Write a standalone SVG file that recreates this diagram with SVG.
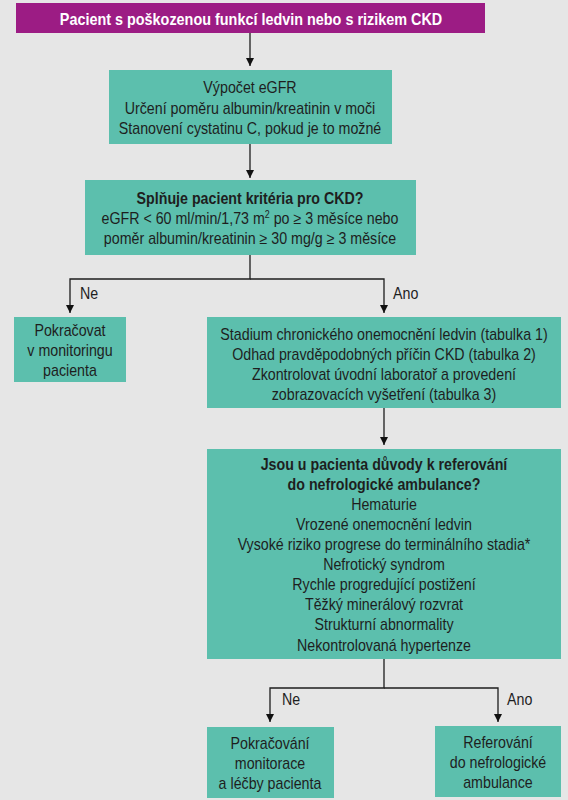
<svg xmlns="http://www.w3.org/2000/svg" width="568" height="800" viewBox="0 0 568 800">
<defs>
<style>
.bg{fill:#e6e6e6}
.box{fill:#5cbfad}
.title{fill:#9c1c84}
text{font-family:"Liberation Sans",Arial,sans-serif;font-size:16px;fill:#1e1e1e;text-anchor:middle}
.b{font-weight:bold}
.w{fill:#ffffff;font-weight:bold}
.lbl{text-anchor:start}
.conn{fill:none;stroke:#1e1e1e;stroke-width:1.3}
</style>
<marker id="ah" viewBox="0 0 10 10" refX="10" refY="5" markerWidth="8" markerHeight="8" markerUnits="userSpaceOnUse" orient="auto">
<path d="M0,0 L10,5 L0,10 z" fill="#111"/>
</marker>
</defs>
<rect class="bg" x="0" y="0" width="568" height="800"/>
<g id="connectors">
<path class="conn" d="M250,33 V66" marker-end="url(#ah)"/>
<path class="conn" d="M250,144 V178" marker-end="url(#ah)"/>
<path class="conn" d="M250,255 V279 H70 V313" marker-end="url(#ah)"/>
<path class="conn" d="M250,279 H384 V313" marker-end="url(#ah)"/>
<path class="conn" d="M384,408 V445" marker-end="url(#ah)"/>
<path class="conn" d="M384,659 V688 H270 V722" marker-end="url(#ah)"/>
<path class="conn" d="M384,688 H498 V722" marker-end="url(#ah)"/>
<g transform="translate(80,0) scale(0.89,1)"><text class="lbl" x="0" y="299">Ne</text></g>
<g transform="translate(393,0) scale(0.89,1)"><text class="lbl" x="0" y="299">Ano</text></g>
<g transform="translate(282,0) scale(0.89,1)"><text class="lbl" x="0" y="705">Ne</text></g>
<g transform="translate(507,0) scale(0.89,1)"><text class="lbl" x="0" y="705">Ano</text></g>
</g>
<g id="start">
<rect class="title" x="16" y="3" width="469" height="30"/>
<g transform="translate(251,0) scale(0.9,1)">
<text class="w" x="0" y="25">Pacient s poškozenou funkcí ledvin nebo s rizikem CKD</text>
</g>
</g>
<g id="egfr">
<rect class="box" x="109" y="70" width="283" height="74"/>
<g transform="translate(250,0) scale(0.89,1)">
<text x="0" y="93">Výpočet eGFR</text>
<text x="0" y="114">Určení poměru albumin/kreatinin v moči</text>
<text x="0" y="134">Stanovení cystatinu C, pokud je to možné</text>
</g>
</g>
<g id="criteria">
<rect class="box" x="85" y="180" width="331" height="75"/>
<g transform="translate(250,0) scale(0.89,1)">
<text class="b" x="0" y="204">Splňuje pacient kritéria pro CKD?</text>
<text x="0" y="224">eGFR &lt; 60 ml/min/1,73 m<tspan font-size="10" dy="-6">2</tspan><tspan dy="6"> po ≥ 3 měsíce nebo</tspan></text>
<text x="0" y="244">poměr albumin/kreatinin ≥ 30 mg/g ≥ 3 měsíce</text>
</g>
</g>
<g id="monitor">
<rect class="box" x="14" y="317" width="112" height="65"/>
<g transform="translate(70,0) scale(0.89,1)">
<text x="0" y="336">Pokračovat</text>
<text x="0" y="356">v monitoringu</text>
<text x="0" y="376">pacienta</text>
</g>
</g>
<g id="stage">
<rect class="box" x="207" y="317" width="354" height="91"/>
<g transform="translate(384,0) scale(0.89,1)">
<text x="0" y="340">Stadium chronického onemocnění ledvin (tabulka 1)</text>
<text x="0" y="360">Odhad pravděpodobných příčin CKD (tabulka 2)</text>
<text x="0" y="380">Zkontrolovat úvodní laboratoř a provedení</text>
<text x="0" y="400">zobrazovacích vyšetření (tabulka 3)</text>
</g>
</g>
<g id="referral">
<rect class="box" x="207" y="449" width="354" height="210"/>
<g transform="translate(384,0) scale(0.89,1)">
<text class="b" x="0" y="470">Jsou u pacienta důvody k referování</text>
<text class="b" x="0" y="490">do nefrologické ambulance?</text>
<text x="0" y="510">Hematurie</text>
<text x="0" y="530">Vrozené onemocnění ledvin</text>
<text x="0" y="550">Vysoké riziko progrese do terminálního stadia*</text>
<text x="0" y="570">Nefrotický syndrom</text>
<text x="0" y="590">Rychle progredující postižení</text>
<text x="0" y="610">Těžký minerálový rozvrat</text>
<text x="0" y="630">Strukturní abnormality</text>
<text x="0" y="651">Nekontrolovaná hypertenze</text>
</g>
</g>
<g id="continue">
<rect class="box" x="207" y="727" width="127" height="71"/>
<g transform="translate(270,0) scale(0.89,1)">
<text x="0" y="749">Pokračování</text>
<text x="0" y="769">monitorace</text>
<text x="0" y="789">a léčby pacienta</text>
</g>
</g>
<g id="refer">
<rect class="box" x="435" y="726" width="126" height="71"/>
<g transform="translate(498,0) scale(0.89,1)">
<text x="0" y="748">Referování</text>
<text x="0" y="768">do nefrologické</text>
<text x="0" y="788">ambulance</text>
</g>
</g>
</svg>
